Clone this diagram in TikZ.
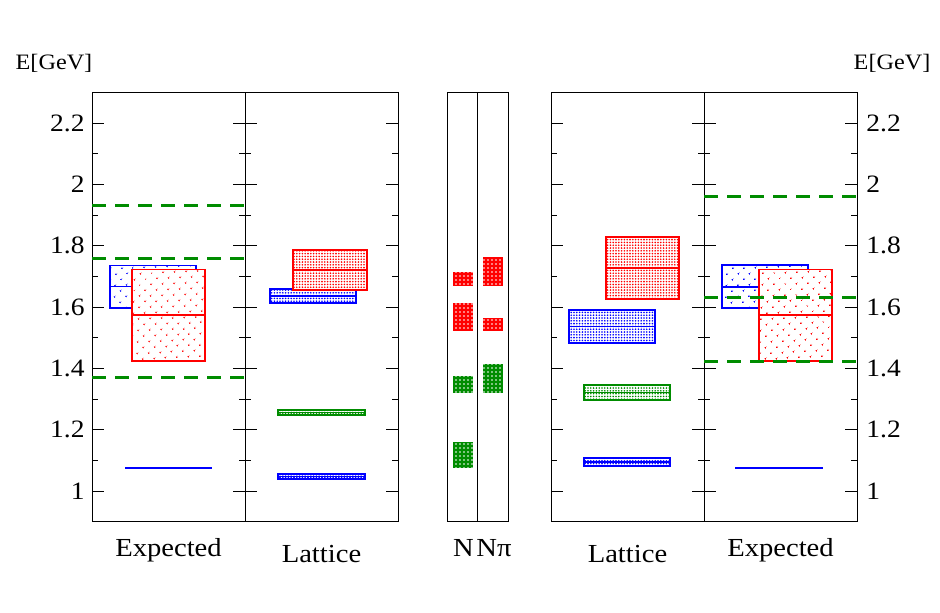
\documentclass[tikz,border=0pt]{standalone}
\usepackage{fontspec}
\setmainfont{Liberation Serif}[FakeStretch=1.1]
\usepackage{tikz}
\usetikzlibrary{patterns.meta}
\definecolor{lvlgreen}{RGB}{0,140,0}
\tikzset{panel/.style={line width=0.5pt},
         thr/.style={lvlgreen, line width=1.5pt, dash pattern=on 7pt off 4.5pt},
         sparsebox/.style={draw=#1, line width=0.6pt, preaction={fill=white},
            pattern={Dots[distance=4pt,radius=0.5pt,angle=45]}, pattern color=#1},
         densebox/.style={draw=#1, line width=0.7pt, preaction={fill=white},
            pattern={Dots[distance=1.4pt,radius=0.45pt]}, pattern color=#1},
         solidbox/.style={fill=#1,
            postaction={pattern={Dots[distance=2pt,radius=0.4pt]}, pattern color=white}},
         ticklbl/.style={font=\fontsize{12.5}{14}\selectfont, inner sep=0pt},
         axlbl/.style={font=\fontsize{11}{13}\selectfont, inner sep=0pt, anchor=base},
         panellbl/.style={font=\fontsize{13}{15}\selectfont, inner sep=0pt, anchor=base}}
\newcommand\lvlbox[5]{%
   \draw[#1] (#2,#4) rectangle (#3,#5);
   \draw[#1] (#2,{(#4+#5)/2}) -- (#3,{(#4+#5)/2});}

\begin{document}
\begin{tikzpicture}[x=0.5pt, y=153.25pt]
   \useasboundingbox (0,0.6052) rectangle (940,2.602);
   % frames
   \draw[panel] (92,0.9) rectangle (398,2.3) (245,0.9) -- (245,2.3);
   \draw[panel] (447,0.9) rectangle (508,2.3) (477,0.9) -- (477,2.3);
   \draw[panel] (551,0.9) rectangle (857,2.3) (704,0.9) -- (704,2.3);
   \foreach \xl in {92,245,551,704} {
     \foreach \i in {0,...,6} \draw[panel] (\xl,1+0.2*\i) -- ++(12,0);
     \foreach \i in {0,...,5} \draw[panel] (\xl,1.1+0.2*\i) -- ++(6,0);
   }
   \foreach \xr in {245,398,704,857} {
     \foreach \i in {0,...,6} \draw[panel] (\xr,1+0.2*\i) -- ++(-12,0);
     \foreach \i in {0,...,5} \draw[panel] (\xr,1.1+0.2*\i) -- ++(-6,0);
   }
   \foreach \i/\t in {0/1,1/1.2,2/1.4,3/1.6,4/1.8,5/2,6/2.2} {
     \node[ticklbl, anchor=east] (tl-\i) at (85,1+0.2*\i) {\t};
     \node[ticklbl, anchor=west] (tr-\i) at (866,1+0.2*\i) {\t};
   }
   \node[axlbl] (ylab-l) at (54,2.374) {E[GeV]};
   \node[axlbl] (ylab-r) at (892,2.374) {E[GeV]};

   % expected, left
   \lvlbox{sparsebox=blue}{110}{196}{1.597}{1.737}
   \lvlbox{sparsebox=red}{132}{205}{1.424}{1.724}
   \draw[blue, line width=1pt] (125,1.075) -- (212,1.075);
   \foreach \e in {1.933,1.760,1.372} \draw[thr] (92,\e) -- (245,\e);

   % lattice, left
   \lvlbox{densebox=blue}{270}{356}{1.613}{1.659}
   \lvlbox{densebox=red}{293}{367}{1.656}{1.786}
   \lvlbox{densebox=lvlgreen}{278}{365}{1.248}{1.264}
   \lvlbox{densebox=blue}{278}{365}{1.039}{1.055}

   % N and N pi
   \path[solidbox=red] (453,1.669) rectangle (473,1.714);
   \path[solidbox=red] (453,1.522) rectangle (473,1.613);
   \path[solidbox=lvlgreen] (453,1.320) rectangle (473,1.375);
   \path[solidbox=lvlgreen] (453,1.075) rectangle (473,1.160);
   \path[solidbox=red] (483,1.669) rectangle (503,1.763);
   \path[solidbox=red] (483,1.522) rectangle (503,1.564);
   \path[solidbox=lvlgreen] (483,1.320) rectangle (503,1.414);

   % lattice, right
   \lvlbox{densebox=red}{606}{679}{1.626}{1.829}
   \lvlbox{densebox=blue}{569}{655}{1.483}{1.591}
   \lvlbox{densebox=lvlgreen}{584}{670}{1.297}{1.346}
   \lvlbox{densebox=blue}{584}{670}{1.082}{1.108}

   % expected, right
   \lvlbox{sparsebox=blue, line width=1pt}{722}{808}{1.597}{1.737}
   \lvlbox{sparsebox=red}{759}{832}{1.424}{1.724}
   \draw[blue, line width=1pt] (735,1.075) -- (823,1.075);
   \foreach \e in {1.962,1.633,1.424} \draw[thr] (704,\e) -- (857,\e);

   \node[panellbl] (exp-l) at (168.5,0.788) {Expected};
   \node[panellbl] (lat-l) at (321.5,0.768) {Lattice};
   \node[panellbl] (nuc) at (463.5,0.785) {N};
   \node[panellbl] (npi) at (494,0.785) {Nπ};
   \node[panellbl] (lat-r) at (627.5,0.768) {Lattice};
   \node[panellbl] (exp-r) at (780.5,0.788) {Expected};
\end{tikzpicture}
\end{document}
